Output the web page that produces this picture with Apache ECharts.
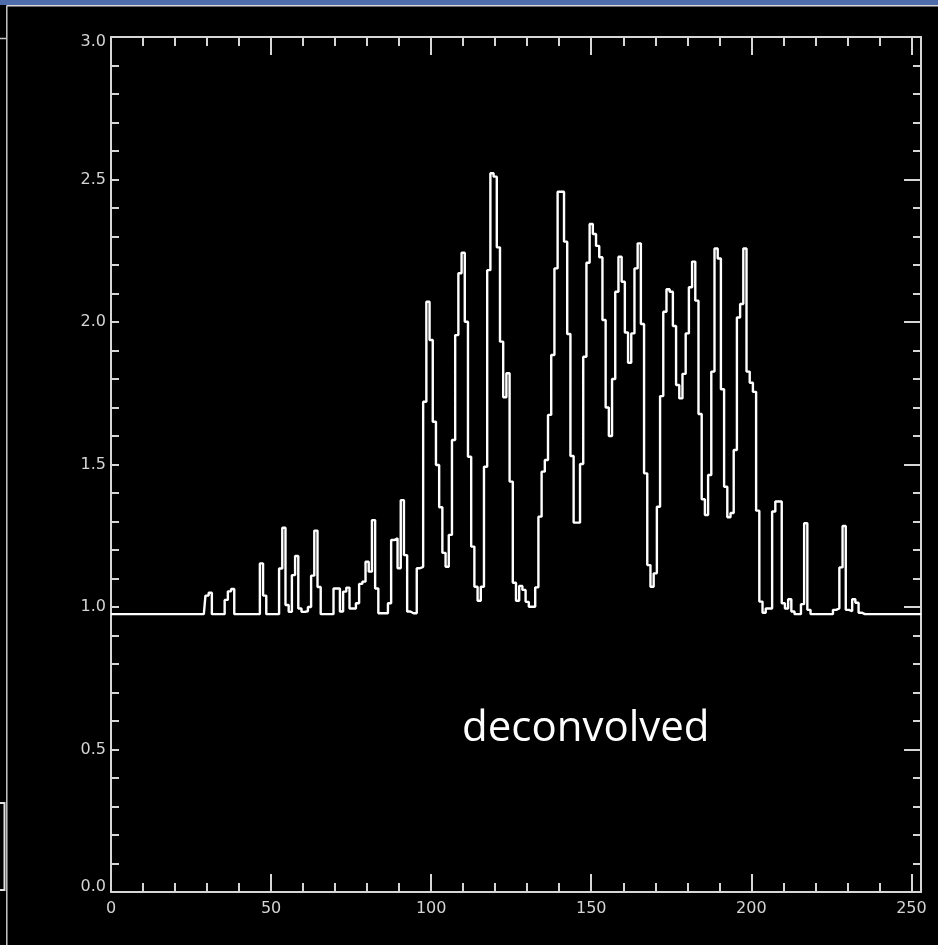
<!DOCTYPE html>
<html>
<head>
<meta charset="utf-8">
<script src="https://cdn.jsdelivr.net/npm/echarts@6/dist/echarts.min.js"></script>
<style>
  html, body { margin: 0; padding: 0; background: #000; }
  #chart { width: 938px; height: 945px; }
</style>
</head>
<body>
<div id="chart"></div>
<script>
// Histogram values per bin (bin index = position in array, 0..253)
const binValues = [
  0.975,0.975,0.975,0.975,0.975,0.975,0.975,0.975,0.975,0.975,
  0.975,0.975,0.975,0.975,0.975,0.975,0.975,0.975,0.975,0.975,
  0.975,0.975,0.975,0.975,0.975,0.975,0.975,0.975,0.975,0.975,
  1.04,1.05,0.975,0.975,0.975,0.975,1.025,1.055,1.063,0.975,
  0.975,0.975,0.975,0.975,0.975,0.975,0.975,1.153,1.04,0.975,
  0.975,0.975,0.975,1.135,1.278,1.007,0.983,1.112,1.179,0.995,
  0.983,0.985,1.0,1.11,1.268,1.07,0.975,0.975,0.975,0.975,
  1.065,1.065,0.984,1.054,1.068,0.995,0.995,1.013,1.081,1.089,
  1.159,1.124,1.305,1.065,0.978,0.978,0.978,1.013,1.235,1.241,
  1.136,1.375,1.182,0.984,0.978,0.978,1.136,1.141,1.72,2.071,
  1.937,1.65,1.498,1.35,1.19,1.141,1.253,1.586,1.954,2.171,
  2.243,2.001,1.527,1.212,1.071,1.022,1.071,1.492,2.182,2.522,
  2.51,2.262,1.931,1.736,1.82,1.44,1.085,1.022,1.074,1.06,
  1.018,1.001,1.001,1.069,1.317,1.475,1.516,1.674,1.884,2.188,
  2.457,2.457,2.282,1.958,1.53,1.296,1.296,1.502,1.878,2.208,
  2.344,2.309,2.267,2.227,2.007,1.70,1.60,1.80,2.106,2.229,
  2.141,1.963,1.857,1.96,2.188,2.276,1.993,1.469,1.147,1.071,
  1.118,1.352,1.74,2.036,2.115,2.106,1.986,1.779,1.732,1.818,
  1.96,2.122,2.212,2.075,1.677,1.378,1.323,1.463,1.826,2.258,
  2.223,1.764,1.422,1.315,1.33,1.551,2.016,2.063,2.258,1.826,
  1.787,1.755,1.338,1.019,0.98,0.995,0.995,1.335,1.37,1.37,
  1.013,0.995,1.027,0.984,0.975,0.975,1.01,1.294,0.99,0.975,
  0.975,0.975,0.975,0.975,0.975,0.975,0.99,0.995,1.139,1.284,
  0.99,0.985,1.027,1.015,0.98,0.975,0.975,0.975,0.975,0.975,
  0.975,0.975,0.975,0.975,0.975,0.975,0.975,0.975,0.975,0.975,
  0.975,0.975,0.975,0.975
];
const xRange = [0, 253];
const yRange = [0, 3];
const annotationText = 'deconvolved';

const seriesData = binValues.map((v, i) => [i, v]);

const axisColor = '#d6d6d6';
const labelColor = '#d4d4d4';
const lineW = 2;

function xAxisDef(position, interval, tickLen, showLine, showLabel) {
  return {
    type: 'value', position: position, min: xRange[0], max: xRange[1], interval: interval,
    axisLine: { show: showLine, onZero: false, lineStyle: { color: axisColor, width: lineW } },
    axisTick: { show: true, inside: true, length: tickLen, lineStyle: { color: axisColor, width: lineW } },
    axisLabel: {
      show: showLabel, showMaxLabel: false, margin: 9,
      color: labelColor, fontFamily: 'DejaVu Sans', fontSize: 16
    },
    splitLine: { show: false }
  };
}

const chart = echarts.init(document.getElementById('chart'), null, { renderer: 'canvas' });
const option = {
  backgroundColor: '#000',
  animation: false,
  grid: { left: 111, right: 17, top: 37, bottom: 53, containLabel: false },
  xAxis: [
    xAxisDef('bottom', 50, 18, true, true),
    xAxisDef('bottom', 10, 9, false, false),
    xAxisDef('top', 50, 18, true, false),
    xAxisDef('top', 10, 9, false, false)
  ],
  yAxis: [
    {
      type: 'value', position: 'left', min: yRange[0], max: yRange[1], interval: 0.5,
      axisLine: { show: true, onZero: false, lineStyle: { color: axisColor, width: lineW } },
      axisTick: { show: true, inside: true, length: 8, lineStyle: { color: axisColor, width: lineW } },
      minorTick: { show: true, splitNumber: 5, length: 8, lineStyle: { color: axisColor, width: lineW } },
      axisLabel: {
        margin: 5, color: labelColor, fontFamily: 'DejaVu Sans', fontSize: 16,
        formatter: function (v) {
          const s = v.toFixed(1);
          if (v === yRange[0]) return '{lo|' + s + '}';
          if (v === yRange[1]) return '{hi|' + s + '}';
          return s;
        },
        rich: {
          lo: { padding: [0, 0, 10, 0], color: labelColor, fontFamily: 'DejaVu Sans', fontSize: 16 },
          hi: { padding: [9, 0, 0, 0], color: labelColor, fontFamily: 'DejaVu Sans', fontSize: 16 }
        }
      },
      splitLine: { show: false }
    },
    {
      type: 'value', position: 'right', min: yRange[0], max: yRange[1], interval: 0.5,
      axisLine: { show: true, onZero: false, lineStyle: { color: axisColor, width: lineW } },
      axisTick: { show: true, inside: true, length: 17, lineStyle: { color: axisColor, width: lineW } },
      minorTick: { show: true, splitNumber: 5, length: 8, lineStyle: { color: axisColor, width: lineW } },
      axisLabel: { show: false },
      splitLine: { show: false }
    }
  ],
  series: [{
    type: 'line', step: 'middle', xAxisIndex: 0, yAxisIndex: 0,
    data: seriesData, showSymbol: false, symbol: 'none',
    lineStyle: { color: '#ffffff', width: 2.4 }
  }],
  graphic: [
    { type: 'rect', left: 0, top: 0, shape: { width: 938, height: 5 }, style: { fill: '#4f6dab' }, silent: true },
    { type: 'line', shape: { x1: 6.5, y1: 5.8, x2: 938, y2: 5.8 }, style: { stroke: '#d8d8d8', lineWidth: 1.5 }, silent: true },
    { type: 'line', shape: { x1: 6.8, y1: 5.8, x2: 6.8, y2: 945 }, style: { stroke: '#c8c8c8', lineWidth: 1.5 }, silent: true },
    { type: 'line', shape: { x1: 0, y1: 38.5, x2: 6, y2: 38.5 }, style: { stroke: '#c8c8c8', lineWidth: 1.5 }, silent: true },
    { type: 'polyline', shape: { points: [[0, 803], [4.5, 803], [4.5, 890], [0, 890]] }, style: { stroke: '#e0e0e0', lineWidth: 2, fill: null }, silent: true },
    {
      type: 'text', x: 462, y: 729,
      style: { text: annotationText, font: '42px "Open Sans"', fill: '#ffffff', textAlign: 'left', textVerticalAlign: 'middle' },
      silent: true
    }
  ]
};
chart.setOption(option);
</script>
</body>
</html>
